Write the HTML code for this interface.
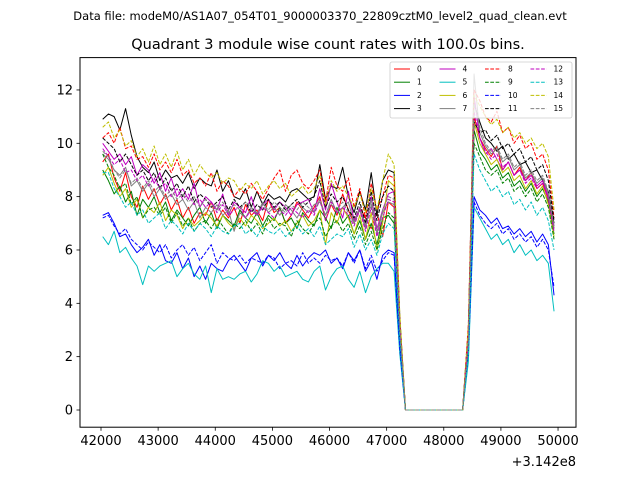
<!DOCTYPE html>
<html><head><meta charset="utf-8"><style>
body{margin:0;background:#fff}
svg{display:block;font-family:"DejaVu Sans","Liberation Sans",sans-serif}
</style></head><body>
<svg id="c" width="640" height="480" viewBox="0 0 640 480">
<rect width="640" height="480" fill="#fff"/>
<text x="320" y="20" font-size="11.5" text-anchor="middle">Data file: modeM0/AS1A07_054T01_9000003370_22809cztM0_level2_quad_clean.evt</text>
<text x="328" y="49" font-size="14.5" text-anchor="middle">Quadrant 3 module wise count rates with 100.0s bins.</text>
<g id="plot"></g>
<rect x="80" y="57.6" width="496" height="369.6" fill="none" stroke="#000" stroke-width="1"/>
<g id="ticks"></g>
<text x="576" y="466" font-size="13" text-anchor="end">+3.142e8</text>
<g id="legend"></g>
</svg>
<script>
const xTicks=[42000,43000,44000,45000,46000,47000,48000,49000,50000];
const yTicks=[0,2,4,6,8,10,12];
const tStart=42030, tStep=100;
const s0=[9.3,9.6,8.7,8.2,8.9,8.0,7.6,8.4,7.9,8.3,7.7,8.1,7.5,7.9,7.2,7.6,7.0,7.4,7.3,7.8,7.1,7.5,7.2,7.6,7.0,7.7,7.3,7.5,7.1,7.9,7.4,7.6,7.0,7.3,7.8,7.5,7.2,7.6,8.0,7.1,7.7,7.3,8.1,7.5,7.0,7.6,7.2,6.8,7.4,6.5,7.8,7.6,3.0,0,0,0,0,0,0,0,0,0,0,0,2.5,11.0,10.2,9.8,9.5,9.9,9.0,9.3,8.8,9.1,8.6,8.9,8.3,8.5,7.9,6.8];
const s1=[9.0,8.6,8.1,8.4,7.8,8.2,7.3,7.9,7.6,8.0,7.4,7.8,7.1,7.5,7.2,6.9,7.3,7.6,7.0,7.4,6.8,7.3,7.1,6.9,7.5,7.2,7.0,7.4,6.9,7.3,7.1,7.6,7.0,7.2,6.8,7.4,7.1,6.9,7.5,7.2,6.8,7.6,7.0,7.3,6.6,7.1,6.4,7.0,6.2,7.2,7.3,7.0,2.8,0,0,0,0,0,0,0,0,0,0,0,2.2,10.5,9.7,9.4,9.0,9.2,8.7,8.9,8.4,8.6,8.2,8.5,8.0,8.3,7.8,6.6];
const s2=[7.3,7.4,7.0,6.5,6.6,6.2,5.9,6.1,6.4,5.8,6.2,5.6,5.5,5.9,5.3,5.7,5.0,5.4,4.9,5.5,5.3,5.2,5.6,5.8,5.5,5.2,5.7,5.9,5.4,5.8,5.6,5.9,5.5,5.3,5.8,5.4,5.7,5.9,5.8,6.0,5.5,5.7,5.3,5.9,5.6,6.0,5.2,5.6,4.9,5.8,6.0,5.9,2.4,0,0,0,0,0,0,0,0,0,0,0,2.0,8.0,7.5,7.3,7.0,7.2,6.8,6.9,6.6,6.8,6.5,6.7,6.3,6.6,6.2,4.3];
const s3=[10.9,11.1,11.0,10.5,11.3,10.3,9.5,9.1,8.9,9.3,8.6,9.0,8.7,8.8,8.5,8.9,8.3,8.7,8.5,8.4,9.0,8.2,8.6,8.0,7.9,8.3,7.6,8.2,7.7,8.1,7.9,8.0,7.8,8.2,8.3,8.1,7.9,8.0,9.2,7.9,8.4,8.3,9.1,8.0,7.4,8.2,7.5,8.9,7.3,8.6,9.0,8.9,3.5,0,0,0,0,0,0,0,0,0,0,0,3.0,11.5,10.8,10.2,10.0,9.7,9.9,9.4,9.6,9.2,9.3,8.9,9.0,8.6,8.2,7.0];
const s4=[10.0,9.7,9.4,9.6,9.2,9.5,8.8,9.2,9.0,8.5,8.9,8.2,8.7,8.0,8.3,7.9,8.5,7.6,8.0,7.8,7.5,8.1,7.3,7.8,7.6,7.4,8.0,7.3,7.7,7.9,7.5,7.8,7.6,7.3,7.7,7.8,7.9,7.4,8.3,7.5,8.5,7.8,7.2,8.2,7.1,7.6,6.9,8.0,6.8,7.5,8.1,8.2,3.2,0,0,0,0,0,0,0,0,0,0,0,2.8,11.8,10.2,9.6,9.8,9.4,9.0,9.3,8.8,9.0,8.6,8.8,8.4,8.6,8.0,6.9];
const s5=[6.5,6.2,6.7,5.9,6.1,5.7,5.4,4.7,5.4,5.2,5.4,5.5,5.6,5.0,5.3,5.5,5.1,4.9,5.4,4.4,5.3,4.9,5.0,4.9,5.1,5.2,4.8,5.1,5.6,5.5,5.2,5.4,5.0,5.1,5.2,4.9,4.8,5.2,5.4,4.5,5.0,5.3,5.4,4.9,4.6,5.2,4.4,5.0,5.3,5.5,5.5,5.2,2.1,0,0,0,0,0,0,0,0,0,0,0,1.8,7.6,7.2,6.8,6.4,6.6,6.2,6.4,5.9,6.2,5.8,6.0,5.6,5.8,5.5,3.7];
const s6=[8.8,9.1,8.5,8.0,8.3,7.6,7.9,7.2,7.6,7.4,7.8,7.1,7.5,7.3,6.8,7.2,6.9,7.1,7.4,7.2,6.9,7.3,7.0,6.8,7.2,6.9,7.3,7.1,6.8,7.0,7.2,6.9,7.1,6.7,7.0,7.3,6.9,7.1,7.5,6.2,7.4,7.0,7.6,7.2,6.6,7.3,6.4,7.4,6.0,7.0,8.6,8.4,3.3,0,0,0,0,0,0,0,0,0,0,0,2.4,10.8,10.0,9.6,9.2,9.4,8.9,9.1,8.6,8.8,8.3,8.6,8.1,8.4,7.7,6.5];
const s7=[9.6,9.4,9.0,8.8,9.1,8.4,8.6,8.2,8.5,8.0,8.3,7.9,8.1,7.7,7.9,7.5,7.8,7.2,7.6,7.4,7.7,7.3,7.5,6.7,7.4,7.2,7.6,7.3,7.8,7.4,7.6,7.3,7.7,7.5,7.2,7.6,7.4,7.7,7.8,7.3,7.9,7.4,7.6,7.8,7.0,7.5,6.8,7.9,6.6,7.4,7.8,7.7,3.1,0,0,0,0,0,0,0,0,0,0,0,2.9,12.6,10.4,9.9,9.6,9.8,9.3,9.5,9.0,9.2,8.7,8.9,8.5,8.7,8.1,6.8];
const s8=[10.2,10.4,10.0,10.6,9.8,9.9,9.4,9.5,9.1,9.6,9.0,9.3,8.9,9.4,8.8,9.0,8.5,8.7,8.4,8.9,8.2,8.6,8.4,8.0,8.3,8.1,8.5,8.2,7.9,8.3,8.7,9.0,8.2,8.8,9.0,8.5,8.3,8.6,9.0,7.8,9.1,8.4,8.2,8.7,7.6,8.3,7.2,8.5,7.5,8.0,8.8,8.7,3.4,0,0,0,0,0,0,0,0,0,0,0,3.2,12.0,11.6,11.0,10.8,11.2,10.4,10.6,10.0,10.3,9.8,10.0,9.4,9.6,9.0,7.2];
const s9=[9.6,9.1,8.8,8.3,8.5,7.7,8.0,7.2,7.5,7.6,7.3,7.6,7.0,7.4,6.9,7.2,6.7,7.0,7.1,6.8,7.2,6.9,6.6,7.0,6.8,7.1,6.7,7.0,6.6,7.2,6.8,7.0,6.9,6.5,7.1,6.8,6.6,7.0,7.2,6.5,6.9,7.1,6.7,7.0,6.4,6.9,6.2,6.7,6.0,6.8,7.4,7.2,2.9,0,0,0,0,0,0,0,0,0,0,0,2.3,10.0,9.5,9.0,8.8,9.0,8.5,8.7,8.2,8.4,8.0,8.3,7.8,8.1,7.6,6.4];
const s10=[7.2,7.3,6.9,6.6,6.8,6.4,6.2,6.0,6.3,6.1,5.9,6.2,5.7,6.0,6.2,5.8,6.1,5.6,5.9,6.2,5.5,5.9,5.7,5.6,5.8,5.5,5.7,5.6,5.5,5.8,5.7,5.3,5.5,5.6,5.4,5.9,5.5,5.7,5.5,5.8,5.6,5.7,5.4,5.9,5.5,6.0,5.3,5.8,5.2,5.6,5.9,5.8,2.3,0,0,0,0,0,0,0,0,0,0,0,2.1,7.8,7.3,7.0,6.8,7.0,6.6,6.8,6.4,6.6,6.3,6.5,6.1,6.4,6.0,4.6];
const s11=[10.2,10.0,9.8,9.3,9.6,9.2,8.8,9.0,8.6,8.9,8.3,8.7,8.2,8.5,8.0,8.4,7.8,8.1,7.9,7.6,7.8,8.0,7.5,7.9,7.6,7.8,7.4,7.7,7.5,7.9,7.6,7.8,7.5,7.7,7.9,7.6,7.8,8.0,8.6,7.6,8.1,7.8,8.0,7.5,7.2,7.8,7.0,8.2,7.1,8.0,8.4,8.2,3.3,0,0,0,0,0,0,0,0,0,0,0,3.0,10.8,10.4,10.5,10.1,10.3,9.8,10.0,9.6,9.8,9.3,9.5,9.0,9.2,8.6,7.1];
const s12=[9.8,9.5,9.2,9.4,8.9,9.0,8.6,8.8,8.4,8.7,8.3,8.5,8.0,8.3,7.9,8.1,7.7,7.9,7.6,7.8,7.4,7.7,7.3,7.5,7.6,7.2,7.5,7.3,7.6,7.4,7.2,7.5,7.3,7.6,7.4,7.2,7.5,7.3,7.9,7.1,7.8,7.4,7.6,7.3,6.9,7.5,6.7,7.6,6.5,7.2,7.9,7.8,3.1,0,0,0,0,0,0,0,0,0,0,0,2.6,11.2,10.2,9.7,9.4,9.6,9.1,9.3,8.8,9.0,8.5,8.7,8.3,8.5,7.9,6.7];
const s13=[8.9,8.9,8.3,8.0,7.6,7.8,7.3,7.5,7.0,7.2,7.4,6.8,7.1,6.9,6.6,7.0,6.7,7.0,6.8,6.5,6.9,6.7,6.6,6.9,7.0,6.6,6.8,6.5,6.9,6.7,6.6,6.8,6.5,6.7,6.9,6.6,6.8,6.5,6.9,6.2,6.4,6.6,6.5,6.8,6.1,6.6,6.0,6.4,5.8,6.6,7.0,6.8,2.7,0,0,0,0,0,0,0,0,0,0,0,2.0,9.6,9.0,8.6,8.2,8.4,8.0,8.2,7.7,7.9,7.5,7.8,7.3,7.6,7.1,6.0];
const s14=[10.6,10.8,10.2,10.5,9.9,10.1,9.5,9.8,9.3,9.9,9.2,9.6,9.1,9.7,9.0,9.4,8.8,9.2,8.9,8.7,8.9,8.5,8.7,8.6,8.2,8.5,8.3,8.6,8.1,8.4,8.6,8.3,8.5,8.0,8.2,8.4,8.1,8.3,8.8,7.7,8.6,8.2,8.4,8.0,7.6,8.1,7.4,8.3,7.5,8.6,9.6,9.2,3.6,0,0,0,0,0,0,0,0,0,0,0,3.1,11.8,11.4,11.0,10.7,10.9,10.4,10.6,10.2,10.4,10.0,10.2,9.8,10.0,9.5,7.5];
const s15=[9.7,9.5,9.0,8.7,9.0,8.5,8.7,8.3,8.6,8.2,8.4,8.0,8.3,7.9,8.1,7.8,8.0,7.6,7.9,7.7,7.5,7.8,7.4,7.7,7.5,7.8,7.6,7.4,7.7,7.5,7.8,7.6,7.4,7.7,7.5,7.8,7.6,7.4,7.9,7.3,7.7,7.5,7.8,7.4,7.0,7.6,6.9,7.7,6.7,7.5,8.0,7.9,3.1,0,0,0,0,0,0,0,0,0,0,0,2.7,11.5,10.6,10.0,9.7,9.9,9.4,9.6,9.1,9.3,8.8,9.0,8.6,8.8,8.2,6.9];
const series=[s0,s1,s2,s3,s4,s5,s6,s7,s8,s9,s10,s11,s12,s13,s14,s15];
const labels=["0","1","2","3","4","5","6","7","8","9","10","11","12","13","14","15"];
const colors=["#ff0000","#008000","#0000ff","#000000","#bf00bf","#00bfbf","#bfbf00","#808080"];

const NS="http://www.w3.org/2000/svg";
function X(t){return 101+(t-42000)*0.05713;}
function Y(v){return 410-v*26.67;}
function mk(tag,attrs,parent){const e=document.createElementNS(NS,tag);for(const k in attrs)e.setAttribute(k,attrs[k]);parent.appendChild(e);return e;}
const plot=document.getElementById('plot');
const ticks=document.getElementById('ticks');
const legend=document.getElementById('legend');

series.forEach((s,si)=>{
  const pts=s.map((v,i)=>X(tStart+i*tStep).toFixed(2)+','+Y(v).toFixed(2)).join(' ');
  const a={points:pts,fill:'none',stroke:colors[si%8],'stroke-width':1,'stroke-linejoin':'round'};
  if(si>=8)a['stroke-dasharray']='3.7,1.6';
  const p=mk('polyline',a,plot);
  
  
});

xTicks.forEach(t=>{
  const x=X(t);
  const l=mk('line',{x1:x,y1:427.2,x2:x,y2:430.7,stroke:'#000','stroke-width':0.8},ticks);
  
  
  const tx=mk('text',{x:x,y:445,'font-size':13,'text-anchor':'middle'},ticks);
  tx.textContent=t;
  
  
});
yTicks.forEach(v=>{
  const y=Y(v);
  const l=mk('line',{x1:76.5,y1:y,x2:80,y2:y,stroke:'#000','stroke-width':0.8},ticks);
  
  
  const tx=mk('text',{x:73,y:y+4.5,'font-size':13,'text-anchor':'end'},ticks);
  tx.textContent=v;
  
  
});

const box=mk('rect',{x:390,y:62,width:182,height:56,rx:2,fill:'#fff','fill-opacity':0.8,stroke:'#ccc','stroke-width':0.8},legend);


labels.forEach((lb,si)=>{
  const col=Math.floor(si/4),row=si%4;
  const x0=394+col*45.5,y0=69+row*13.2;
  const a={x1:x0,y1:y0,x2:x0+16,y2:y0,stroke:colors[si%8],'stroke-width':1};
  if(si>=8)a['stroke-dasharray']='3.7,1.6';
  const l=mk('line',a,legend);
  
  
  const t=mk('text',{x:x0+23,y:y0+2.5,'font-size':7.5},legend);
  t.textContent=lb;
  
  
});
</script>
</body></html>
